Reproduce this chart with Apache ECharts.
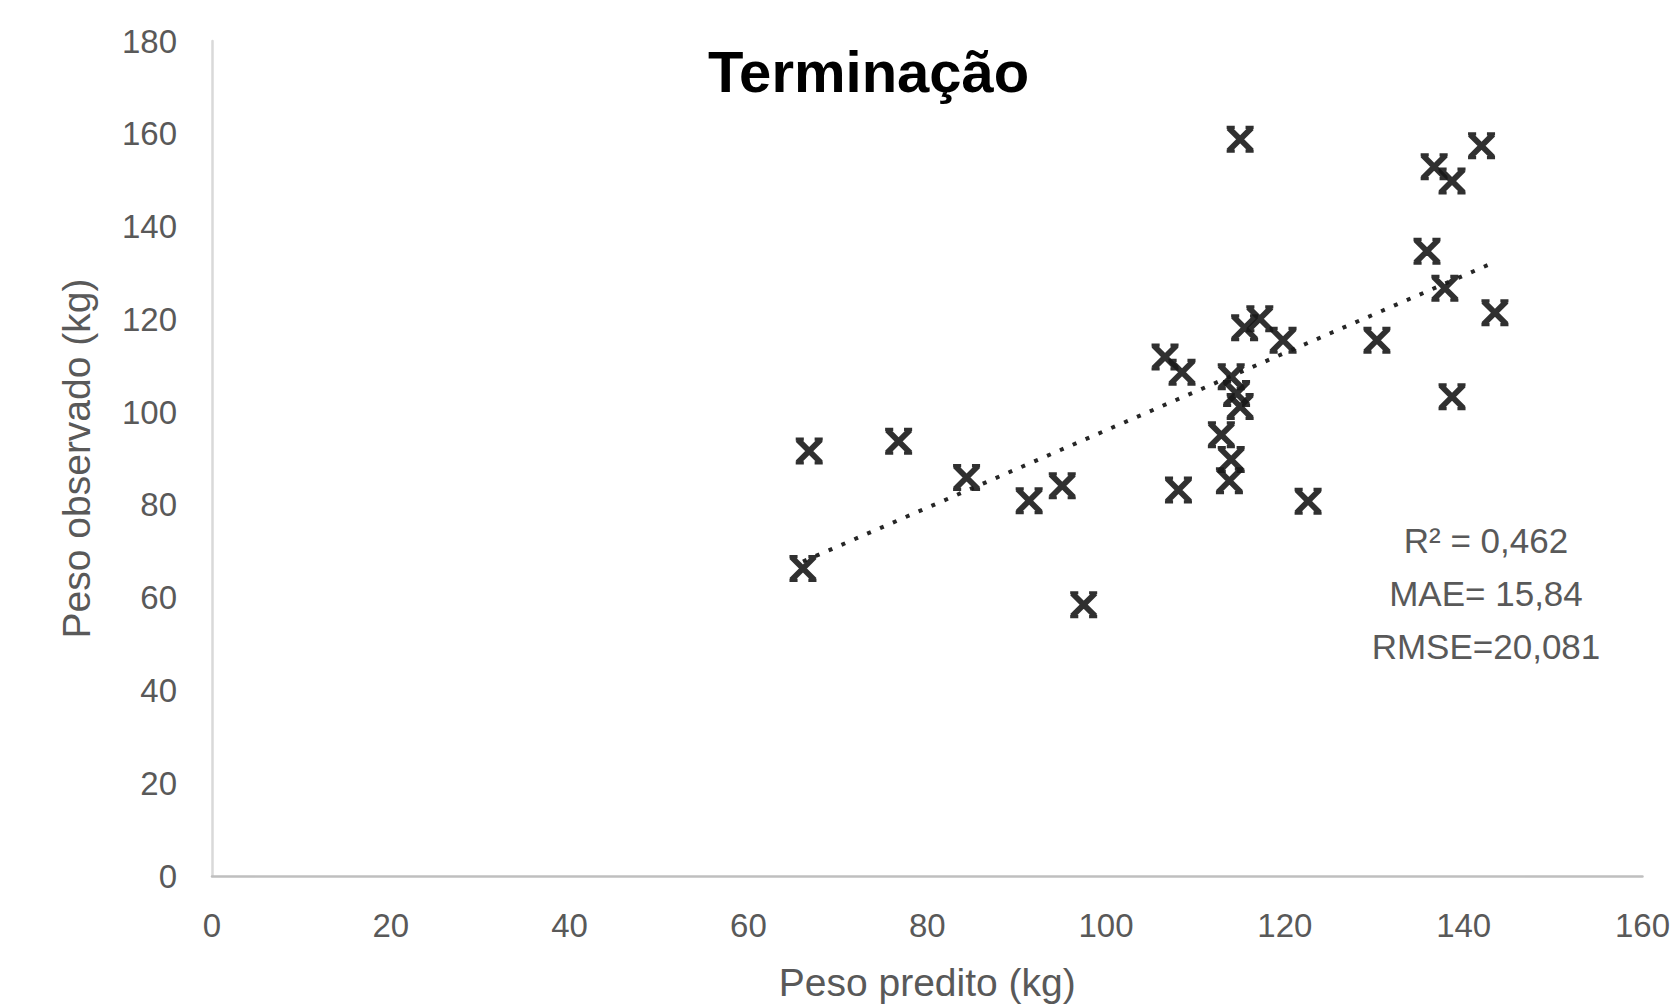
<!DOCTYPE html>
<html>
<head>
<meta charset="utf-8">
<script src="https://cdn.jsdelivr.net/npm/echarts@6/dist/echarts.min.js"></script>
<style>
html,body{margin:0;padding:0;background:#fff;}
#chart{width:1673px;height:1007px;}
</style>
</head>
<body>
<div id="chart"></div>
<script>
// Data
var titleText = 'Terminação';
var xAxisName = 'Peso predito (kg)';
var yAxisName = 'Peso observado (kg)';
var statsLines = ['R² = 0,462', 'MAE= 15,84', 'RMSE=20,081'];

var predicted = [66.1, 66.8, 76.8, 84.4, 91.4, 95.1, 97.5, 106.6, 108.5, 108.1,
                 112.9, 114.0, 114.6, 115.0, 114.0, 113.8, 115.0, 115.5, 117.2, 119.8,
                 122.6, 130.3, 135.9, 136.7, 138.7, 142.0, 137.9, 143.5, 138.7];
var observed  = [66.3, 91.6, 93.7, 85.9, 80.9, 84.1, 58.5, 111.9, 108.6, 83.2,
                 95.1, 107.6, 104.0, 101.2, 89.8, 85.2, 158.8, 118.2, 120.1, 115.5,
                 80.8, 115.5, 134.7, 152.9, 149.8, 157.4, 126.7, 121.4, 103.3];

var xTicks = [0, 20, 40, 60, 80, 100, 120, 140, 160];
var yTicks = [0, 20, 40, 60, 80, 100, 120, 140, 160, 180];

// Build scatter pairs
var points = predicted.map(function (p, i) { return [p, observed[i]]; });

// Linear trendline (least squares) from the data
var n = points.length, sx = 0, sy = 0, sxx = 0, sxy = 0;
points.forEach(function (pt) { sx += pt[0]; sy += pt[1]; sxx += pt[0] * pt[0]; sxy += pt[0] * pt[1]; });
var slope = (n * sxy - sx * sy) / (n * sxx - sx * sx);
var intercept = (sy - slope * sx) / n;
var xMinData = Math.min.apply(null, predicted), xMaxData = Math.max.apply(null, predicted);
var trend = [[xMinData, intercept + slope * xMinData], [xMaxData, intercept + slope * xMaxData]];

// X marker with small serifs
var xMarker = 'path://M0,3L3,0L20,17L17,20Z M17,0L20,3L3,20L0,17Z ' +
  'M0,0L6,0L6,2.4L0,2.4Z M14,0L20,0L20,2.4L14,2.4Z M0,17.6L6,17.6L6,20L0,20Z M14,17.6L20,17.6L20,20L14,20Z';

var chart = echarts.init(document.getElementById('chart'), null, { renderer: 'svg' });
var font = 'Liberation Sans, Arial, sans-serif';

chart.setOption({
  backgroundColor: '#ffffff',
  animation: false,
  title: {
    text: titleText,
    left: 703,
    top: 37,
    textStyle: { fontFamily: font, fontSize: 58, fontWeight: 'bold', color: '#000000' }
  },
  grid: { left: 212, right: 21, top: 41, bottom: 123, containLabel: false },
  xAxis: {
    type: 'value',
    min: xTicks[0],
    max: xTicks[xTicks.length - 1],
    interval: 20,
    name: xAxisName,
    nameLocation: 'middle',
    nameGap: 87,
    nameTextStyle: { fontFamily: font, fontSize: 39, color: '#595959' },
    axisLine: { show: true, lineStyle: { color: '#bfbfbf', width: 2.5 } },
    axisTick: { show: false },
    splitLine: { show: false },
    axisLabel: { fontFamily: font, fontSize: 33, color: '#595959', margin: 33 }
  },
  yAxis: {
    type: 'value',
    min: yTicks[0],
    max: yTicks[yTicks.length - 1],
    interval: 20,
    name: yAxisName,
    nameLocation: 'middle',
    nameGap: 116,
    nameTextStyle: { fontFamily: font, fontSize: 39, color: '#595959' },
    axisLine: { show: true, onZero: false, lineStyle: { color: '#d9d9d9', width: 2.5 } },
    axisTick: { show: false },
    splitLine: { show: false },
    axisLabel: { fontFamily: font, fontSize: 33, color: '#595959', margin: 35 }
  },
  series: [
    {
      type: 'line',
      data: trend,
      symbol: 'none',
      silent: true,
      lineStyle: { color: '#262626', width: 4, type: [4, 10] },
      z: 1
    },
    {
      type: 'scatter',
      data: points,
      symbol: xMarker,
      symbolSize: 27,
      itemStyle: { color: '#1a1a1a', opacity: 0.9 },
      z: 2
    }
  ],
  graphic: [
    {
      type: 'text',
      x: 1486,
      y: 514,
      style: {
        text: statsLines.join('\n'),
        fontFamily: font,
        fontSize: 35,
        lineHeight: 53,
        fill: '#595959',
        textAlign: 'center',
        textVerticalAlign: 'top'
      }
    }
  ]
});
</script>
</body>
</html>
